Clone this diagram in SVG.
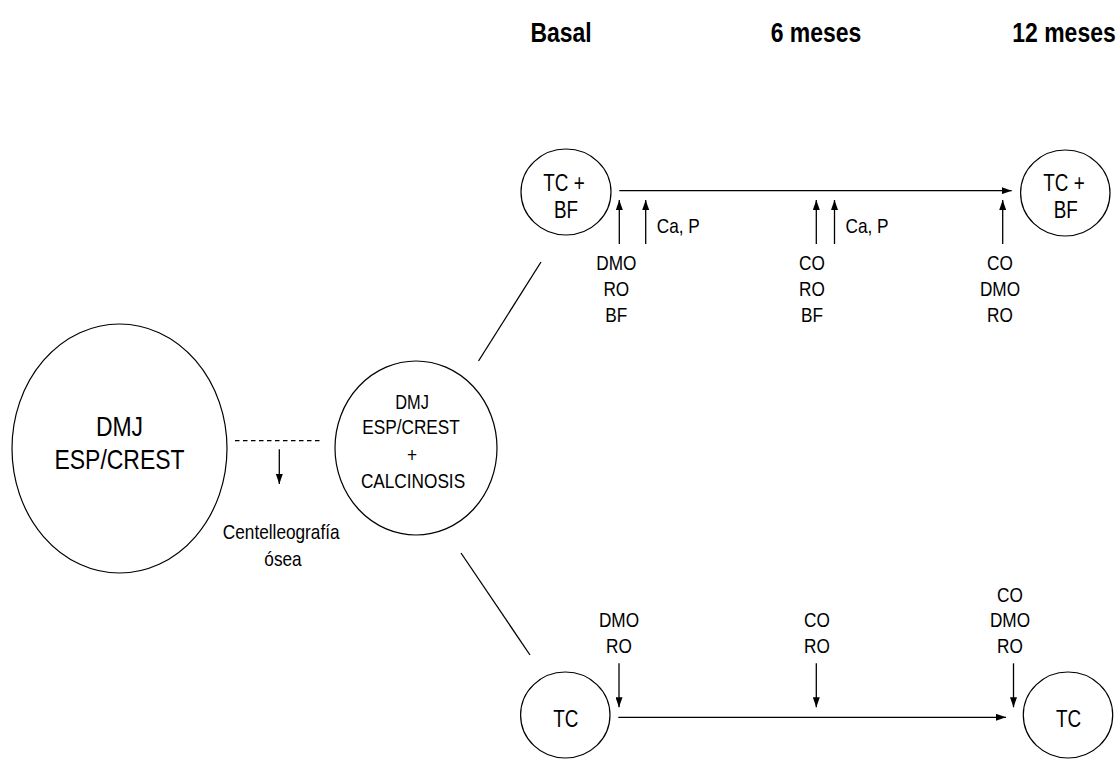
<svg xmlns="http://www.w3.org/2000/svg" width="1120" height="761" viewBox="0 0 1120 761">
<defs>
<style>
.bg{fill:#ffffff}
.node{fill:#ffffff;stroke:#000000;stroke-width:1.2}
.ln{stroke:#000000;stroke-width:1.3;fill:none}
.dash{stroke:#000000;stroke-width:1.2;stroke-dasharray:4.5 3.5;fill:none}
.arr{stroke:#000000;stroke-width:1.3;fill:none;marker-end:url(#ah)}
text{font-family:"Liberation Sans",Arial,sans-serif;fill:#000000;text-anchor:middle}
.s{font-size:21px}
.m{font-size:23px}
.l{font-size:28px}
.h{font-size:28px;font-weight:bold}
.st{text-anchor:start}
</style>
<marker id="ah" viewBox="0 0 10 7" refX="10" refY="3.5" markerWidth="10" markerHeight="7" markerUnits="userSpaceOnUse" orient="auto">
<path d="M0,0 L10,3.5 L0,7 z" fill="#000000"/>
</marker>
</defs>
<rect class="bg" x="0" y="0" width="1120" height="761"/>

<g id="headers">
<text class="h" transform="translate(561,42) scale(0.82,1)">Basal</text>
<text class="h" transform="translate(816,42) scale(0.82,1)">6 meses</text>
<text class="h" transform="translate(1064,42) scale(0.82,1)">12 meses</text>
</g>

<g id="connectors">
<line class="dash" x1="235" y1="440.7" x2="321.7" y2="440.7"/>
<line class="arr" x1="279.3" y1="449.3" x2="279.3" y2="484"/>
<line class="ln" x1="541" y1="262" x2="478.5" y2="361"/>
<line class="ln" x1="461" y1="553" x2="530" y2="655"/>
<line class="arr" x1="619.3" y1="190.7" x2="1011.7" y2="190.7"/>
<line class="arr" x1="619.3" y1="244" x2="619.3" y2="200"/>
<line class="arr" x1="645.7" y1="244" x2="645.7" y2="200"/>
<line class="arr" x1="816.3" y1="244" x2="816.3" y2="200"/>
<line class="arr" x1="834.5" y1="244" x2="834.5" y2="200"/>
<line class="arr" x1="1002.7" y1="244" x2="1002.7" y2="200"/>
<line class="arr" x1="618.3" y1="717.3" x2="1006" y2="717.3"/>
<line class="arr" x1="619" y1="663.3" x2="619" y2="707.3"/>
<line class="arr" x1="816.3" y1="663.3" x2="816.3" y2="707.3"/>
<line class="arr" x1="1013.5" y1="663.3" x2="1013.5" y2="707.3"/>
</g>

<g id="labels">
<text class="s" transform="translate(281.2,539) scale(0.82,1)">Centelleografía</text>
<text class="s" transform="translate(283,565.7) scale(0.82,1)">ósea</text>
<text class="s st" transform="translate(656.7,232.7) scale(0.82,1)">Ca, P</text>
<text class="s st" transform="translate(845.5,232.7) scale(0.82,1)">Ca, P</text>
<text class="s" transform="translate(616.3,270) scale(0.82,1)">DMO<tspan x="0" dy="26">RO</tspan><tspan x="0" dy="26">BF</tspan></text>
<text class="s" transform="translate(812,270) scale(0.82,1)">CO<tspan x="0" dy="26">RO</tspan><tspan x="0" dy="26">BF</tspan></text>
<text class="s" transform="translate(1000,270) scale(0.82,1)">CO<tspan x="0" dy="26">DMO</tspan><tspan x="0" dy="26">RO</tspan></text>
<text class="s" transform="translate(619,627.3) scale(0.82,1)">DMO<tspan x="0" dy="25.4">RO</tspan></text>
<text class="s" transform="translate(817,627.3) scale(0.82,1)">CO<tspan x="0" dy="25.4">RO</tspan></text>
<text class="s" transform="translate(1010,601.5) scale(0.82,1)">CO<tspan x="0" dy="25.8">DMO</tspan><tspan x="0" dy="25.4">RO</tspan></text>
</g>

<g id="node-main">
<ellipse class="node" cx="119.5" cy="448.5" rx="107.5" ry="124.5"/>
<text class="l" transform="translate(119.5,435.7) scale(0.82,1)">DMJ</text>
<text class="l" transform="translate(119.5,469.3) scale(0.82,1)">ESP/CREST</text>
</g>

<g id="node-calcinosis">
<ellipse class="node" cx="416" cy="448" rx="81" ry="87"/>
<text style="font-size:20px" transform="translate(412,409.3) scale(0.82,1)">DMJ</text>
<text class="s" transform="translate(411,434.3) scale(0.82,1)">ESP/CREST</text>
<text class="s" transform="translate(412,461.5) scale(0.82,1)">+</text>
<text class="s" transform="translate(413,488.3) scale(0.82,1)">CALCINOSIS</text>
</g>

<g id="node-tcbf-basal">
<ellipse class="node" cx="566" cy="192" rx="45" ry="43"/>
<text class="m" transform="translate(564,190.5) scale(0.82,1)">TC +</text>
<text class="m" transform="translate(566,217.5) scale(0.82,1)">BF</text>
</g>

<g id="node-tcbf-12">
<ellipse class="node" cx="1065.3" cy="193" rx="44.7" ry="43"/>
<text class="m" transform="translate(1064,190.5) scale(0.82,1)">TC +</text>
<text class="m" transform="translate(1065.7,217.5) scale(0.82,1)">BF</text>
</g>

<g id="node-tc-basal">
<ellipse class="node" cx="565.3" cy="715" rx="44.7" ry="43"/>
<text class="m" transform="translate(565.8,727.3) scale(0.82,1)">TC</text>
</g>

<g id="node-tc-12">
<ellipse class="node" cx="1068" cy="715" rx="44.7" ry="43"/>
<text class="m" transform="translate(1068.5,727.3) scale(0.82,1)">TC</text>
</g>
</svg>
